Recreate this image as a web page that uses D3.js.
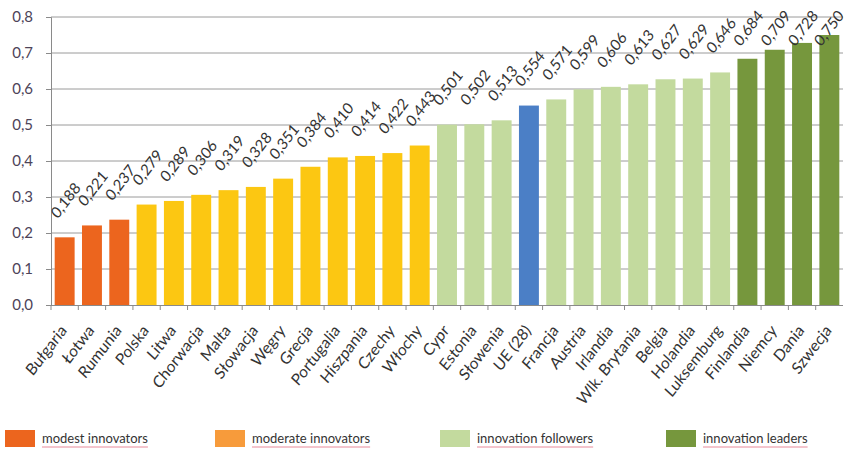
<!DOCTYPE html>
<html>
<head>
<meta charset="utf-8">
<script src="https://cdn.jsdelivr.net/npm/d3@7"></script>
<style>
  body { margin: 0; background: #fff; }
  text { font-family: Lato, "Open Sans", sans-serif; }
</style>
</head>
<body>
<svg id="chart" width="847" height="451"></svg>
<script>
'use strict';

// Summary Innovation Index by country
var countries = ['Bułgaria', 'Łotwa', 'Rumunia', 'Polska', 'Litwa', 'Chorwacja', 'Malta', 'Słowacja', 'Węgry', 'Grecja',
  'Portugalia', 'Hiszpania', 'Czechy', 'Włochy', 'Cypr', 'Estonia', 'Słowenia', 'UE (28)', 'Francja', 'Austria',
  'Irlandia', 'Wlk. Brytania', 'Belgia', 'Holandia', 'Luksemburg', 'Finlandia', 'Niemcy', 'Dania', 'Szwecja'];
var values = [0.188, 0.221, 0.237, 0.279, 0.289, 0.306, 0.319, 0.328, 0.351, 0.384,
  0.410, 0.414, 0.422, 0.443, 0.501, 0.502, 0.513, 0.554, 0.571, 0.599,
  0.606, 0.613, 0.627, 0.629, 0.646, 0.684, 0.709, 0.728, 0.750];
var groups = ['modest', 'modest', 'modest', 'moderate', 'moderate', 'moderate', 'moderate', 'moderate', 'moderate', 'moderate',
  'moderate', 'moderate', 'moderate', 'moderate', 'follower', 'follower', 'follower', 'eu', 'follower', 'follower',
  'follower', 'follower', 'follower', 'follower', 'follower', 'leader', 'leader', 'leader', 'leader'];
var yTicks = [0, 0.1, 0.2, 0.3, 0.4, 0.5, 0.6, 0.7, 0.8];
var legendLabels = ['modest innovators', 'moderate innovators', 'innovation followers', 'innovation leaders'];

var barColors = {modest: '#ec651e', moderate: '#fcc712', follower: '#c3da9e', eu: '#4b7fc6', leader: '#76973d'};
var legendColors = ['#ec651e', '#f79b3b', '#c3da9e', '#76973d'];

var svg = d3.select('#chart');
var margin = {left: 51, right: 4, top: 17};
var plotBottom = 305;

var x = d3.scaleBand().domain(countries).range([margin.left, 847 - margin.right]).paddingInner(0.27).paddingOuter(0.135);
var y = d3.scaleLinear().domain([0, 0.8]).range([plotBottom, margin.top]);
var fmt = function (v) { return d3.format('.3f')(v).replace('.', ','); };

// gridlines
svg.append('g').selectAll('line').data(yTicks.slice(1)).enter().append('line')
  .attr('x1', margin.left).attr('x2', 847 - margin.right)
  .attr('y1', function (d) { return y(d); }).attr('y2', function (d) { return y(d); })
  .attr('stroke', '#9a9a9a').attr('stroke-width', 1);

// y axis
var yAxis = svg.append('g').attr('transform', 'translate(' + margin.left + ',0)')
  .call(d3.axisLeft(y).tickValues(yTicks).tickSize(5).tickFormat(function (d) { return d3.format('.1f')(d).replace('.', ','); }));
yAxis.select('.domain').attr('stroke', '#8a8a8a');
yAxis.selectAll('.tick line').attr('stroke', '#8a8a8a');
yAxis.selectAll('text').attr('font-size', '15px').attr('fill', '#4d4358').attr('x', -18);

// bars
svg.append('g').selectAll('rect').data(values).enter().append('rect')
  .attr('x', function (d, i) { return x(countries[i]); })
  .attr('width', x.bandwidth())
  .attr('y', function (d) { return y(d); })
  .attr('height', function (d) { return plotBottom - y(d); })
  .attr('fill', function (d, i) { return barColors[groups[i]]; });

// x axis (ticks between categories)
var xAxisG = svg.append('g');
xAxisG.append('line').attr('x1', margin.left).attr('x2', 847 - margin.right)
  .attr('y1', plotBottom + 0.5).attr('y2', plotBottom + 0.5).attr('stroke', '#8a8a8a');
xAxisG.selectAll('line.tick').data(countries).enter().append('line').attr('class', 'tick')
  .attr('x1', function (d) { return x(d) - x.step() * x.paddingInner() / 2; })
  .attr('x2', function (d) { return x(d) - x.step() * x.paddingInner() / 2; })
  .attr('y1', plotBottom).attr('y2', plotBottom + 5).attr('stroke', '#8a8a8a');

// category labels (the picture is stretched a little vertically, so they run steeper than 45deg)
svg.append('g').selectAll('text').data(countries).enter().append('text')
  .attr('transform', function (d) { return 'translate(' + (x(d) + x.bandwidth() / 2 + 3) + ',' + (plotBottom + 26) + ') scale(1,1.1) rotate(-50)'; })
  .attr('text-anchor', 'end')
  .attr('font-size', '15px')
  .attr('fill', '#333')
  .text(function (d) { return d; });

// value labels, centred above the bar; pushed down near the top edge like Excel does
svg.append('g').selectAll('text').data(values).enter().append('text')
  .attr('transform', function (d, i) {
    var cx = Math.min(x(countries[i]) + x.bandwidth() / 2 + 1, 829);
    var cy = Math.max(y(d) - 37, 28);
    return 'translate(' + cx + ',' + cy + ') scale(1,1.1) rotate(-50)';
  })
  .attr('text-anchor', 'middle')
  .attr('dy', '0.35em')
  .attr('font-size', '14.5px')
  .attr('fill', '#333')
  .text(function (d) { return fmt(d); });

// legend
var legendX = [5, 215, 440, 666];
var legend = svg.append('g').selectAll('g').data(legendLabels).enter().append('g')
  .attr('transform', function (d, i) { return 'translate(' + legendX[i] + ',430)'; });
legend.append('rect').attr('width', 30).attr('height', 17).attr('fill', function (d, i) { return legendColors[i]; });
legend.append('text').attr('x', 37).attr('y', 13).attr('font-size', '13px').attr('fill', '#333')
  .text(function (d) { return d; });
legend.each(function () {
  var g = d3.select(this);
  var w = g.select('text').node().getComputedTextLength();
  g.append('line').attr('x1', 37).attr('x2', 37 + w).attr('y1', 17).attr('y2', 17)
    .attr('stroke', '#e88a9a').attr('stroke-width', 1);
});
</script>
</body>
</html>
